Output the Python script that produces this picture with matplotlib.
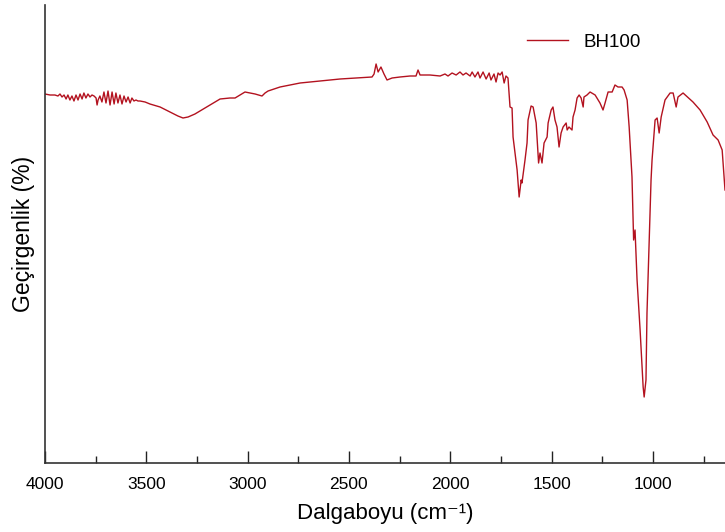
import matplotlib
matplotlib.use("Agg")
import matplotlib.pyplot as plt
from matplotlib.ticker import MultipleLocator, NullLocator

plt.rcParams['font.family'] = ['Liberation Sans', 'DejaVu Sans']

series_name = "BH100"
x_label = "Dalgaboyu (cm⁻¹)"
y_label = "Geçirgenlik (%)"
x_ticks = [4000, 3500, 3000, 2500, 2000, 1500, 1000]

wavenumber = [
    4000, 3975, 3951, 3936, 3926, 3916, 3906, 3896, 3887, 3877, 3867, 3857, 3847, 3837,
    3827, 3817, 3808, 3798, 3788, 3778, 3768, 3758, 3748, 3743, 3738, 3729, 3719, 3709,
    3699, 3689, 3679, 3669, 3659, 3650, 3640, 3630, 3620, 3610, 3600, 3590, 3580, 3571,
    3561, 3551, 3541, 3531, 3506, 3482, 3432, 3383, 3344, 3319, 3294, 3260, 3235, 3186,
    3136, 3087, 3062, 3013, 2963, 2929, 2914, 2899, 2840, 2741, 2643, 2544, 2386, 2376,
    2366, 2356, 2342, 2327, 2312, 2287, 2248, 2198, 2169, 2159, 2149, 2100, 2050, 2026,
    2011, 1991, 1971, 1952, 1937, 1922, 1902, 1892, 1878, 1863, 1853, 1838, 1823, 1808,
    1799, 1784, 1774, 1764, 1754, 1744, 1734, 1725, 1715, 1705, 1695, 1690, 1670, 1660,
    1650, 1646, 1631, 1621, 1616, 1601, 1591, 1576, 1571, 1564, 1557, 1547, 1537, 1522,
    1517, 1502, 1493, 1483, 1473, 1463, 1453, 1443, 1428, 1423, 1414, 1399, 1394, 1384,
    1374, 1364, 1354, 1344, 1340, 1325, 1310, 1285, 1261, 1246, 1236, 1221, 1201, 1187,
    1172, 1152, 1142, 1127, 1117, 1103, 1095, 1088, 1078, 1063, 1048, 1043, 1034, 1029,
    1019, 1009, 1004, 989, 979, 969, 959, 940, 915, 900, 885, 876, 851, 802,
    767, 732, 703, 678, 658, 644,
]

transmittance = [
    92.25, 92.0, 92.0, 91.75, 92.25, 91.5, 92.0, 91.0, 92.0, 90.75, 91.75, 90.5, 92.0, 90.75,
    92.25, 91.0, 92.5, 91.25, 92.25, 91.5, 92.0, 91.75, 91.25, 89.5, 90.75, 91.75, 90.25, 92.75,
    90.0, 93.0, 89.5, 92.75, 89.75, 92.5, 90.0, 92.0, 89.75, 91.75, 90.25, 91.5, 90.0, 91.25,
    90.5, 90.75, 90.5, 90.5, 90.25, 89.75, 89.0, 87.75, 86.75, 86.25, 86.5, 87.25, 88.0, 89.5,
    91.0, 91.25, 91.25, 92.75, 92.25, 91.75, 92.5, 93.0, 94.0, 95.0, 95.5, 96.0, 96.5, 97.25,
    99.75, 97.75, 99.0, 97.25, 95.75, 96.25, 96.5, 96.75, 96.75, 98.25, 97.0, 97.0, 96.75, 97.25,
    96.75, 97.5, 97.0, 97.75, 97.0, 97.5, 96.75, 97.75, 96.5, 97.75, 96.25, 97.75, 96.0, 97.5,
    95.75, 97.25, 95.25, 97.5, 97.0, 97.75, 95.0, 96.75, 96.25, 89.0, 88.75, 81.5, 73.25, 66.5,
    70.75, 70.0, 75.75, 80.0, 85.75, 89.25, 89.0, 85.0, 80.75, 75.0, 77.5, 75.0, 80.0, 81.5,
    85.0, 88.25, 89.0, 85.75, 84.0, 79.0, 82.5, 84.0, 85.0, 83.25, 84.0, 83.25, 86.5, 88.25,
    91.25, 92.0, 91.25, 89.0, 91.5, 92.0, 92.75, 92.0, 90.0, 88.25, 90.0, 92.75, 92.75, 94.5,
    94.0, 94.0, 93.25, 90.75, 84.0, 71.5, 55.75, 58.25, 45.75, 33.25, 19.0, 16.5, 20.75, 37.5,
    54.0, 70.75, 75.75, 85.75, 86.25, 82.5, 86.5, 90.75, 92.5, 92.5, 89.0, 91.5, 92.5, 90.25,
    88.25, 85.25, 82.0, 80.75, 78.25, 68.25,
]

W, H = 725, 532
fig = plt.figure(figsize=(W / 100, H / 100), dpi=100)
ax = fig.add_axes([45 / W, (H - 463) / H, (W - 45) / W, (463 - 5) / H])

ax.plot(wavenumber, transmittance, color='#b3121f', lw=1.0, label=series_name)

ax.set_xlim(4000, 644)
ax.set_ylim(0, 114.5)
ax.set_xticks(x_ticks)
ax.xaxis.set_minor_locator(MultipleLocator(250))
ax.yaxis.set_major_locator(NullLocator())
ax.tick_params(axis='x', which='major', direction='in', length=8.5, width=1.0,
               labelsize=12.5, pad=10, colors='#222222', labelcolor='black')
ax.tick_params(axis='x', which='minor', direction='in', length=5, width=1.0, colors='#222222')

for s in ['top', 'right']:
    ax.spines[s].set_visible(False)
for s in ['left', 'bottom']:
    ax.spines[s].set_linewidth(1.2)
    ax.spines[s].set_color('#333333')

ax.set_xlabel(x_label, fontsize=16, labelpad=8)
ax.set_ylabel(y_label, fontsize=16.5, labelpad=7)

ax.legend(loc='center left', bbox_to_anchor=((527 - 45) / 680, (463 - 42) / 458),
          frameon=False, fontsize=13.5, handlelength=2.2, borderpad=0,
          borderaxespad=0, handletextpad=0.8)

fig.savefig("out.png", dpi=100)
